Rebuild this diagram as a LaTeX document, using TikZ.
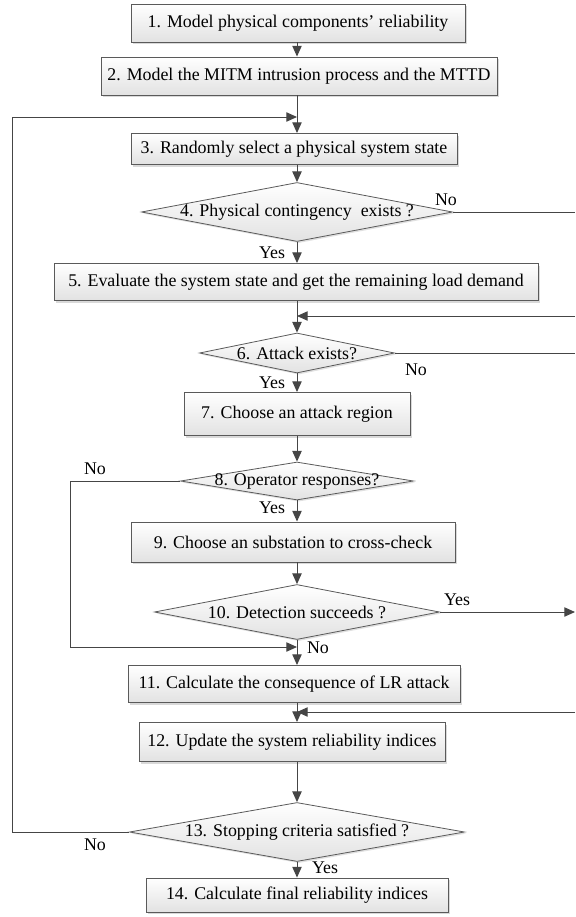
\documentclass[tikz,border=0pt]{standalone}
\usepackage{fontspec}
\setmainfont{Liberation Serif}
\usetikzlibrary{arrows.meta,shapes.geometric,shadows}
\newdimen\upx \upx=0.75pt
\definecolor{edge}{HTML}{5A5A5A}
\definecolor{ink}{HTML}{454545}
\definecolor{shadebot}{HTML}{E2E2E2}
\begin{document}
\begin{tikzpicture}[x=0.75pt,y=-0.75pt,
  font=\fontsize{13.4}{15}\selectfont,
  stepbox/.style={rectangle, draw=edge, line width=0.7pt, top color=white,
    bottom color=shadebot, inner sep=0pt,
    drop shadow={shadow xshift=1.6pt, shadow yshift=-1.6pt, fill=black, opacity=0.15}},
  decision/.style={diamond, draw=edge, line width=0.6pt, top color=white,
    bottom color=shadebot, inner sep=0pt,
    drop shadow={shadow xshift=1.2pt, shadow yshift=-1.2pt, fill=black, opacity=0.12}},
  flow/.style={draw=ink, line width=0.75pt},
  arr/.style={flow, -{Triangle[length=8pt,width=7pt]}},
  lbl/.style={inner sep=0pt}
]
\useasboundingbox (0,0) rectangle (575,917);

% process steps and decisions along the main axis
\node[stepbox, minimum width=334\upx, minimum height=38\upx] (b1) at (298,23) {1. Model physical components’ reliability};
\node[stepbox, minimum width=396\upx, minimum height=38\upx] (b2) at (299,76) {2. Model the MITM intrusion process and the MTTD};
\node[stepbox, minimum width=326\upx, minimum height=31\upx] (b3) at (294,149) {3. Randomly select a physical system state};
\node[decision, minimum width=311\upx, minimum height=59\upx] (d4) at (297,212) {};
\node[lbl] (t4) at (d4.center) {4. Physical contingency~ exists ?};
\node[stepbox, minimum width=484\upx, minimum height=37\upx] (b5) at (296,282) {5. Evaluate the system state and get the remaining load demand};
\node[decision, minimum width=195\upx, minimum height=40\upx] (d6) at (297,353) {};
\node[lbl] (t6) at (d6.center) {6. Attack exists?};
\node[stepbox, minimum width=226\upx, minimum height=43\upx] (b7) at (297,414) {7. Choose an attack region};
\node[decision, minimum width=233\upx, minimum height=38\upx] (d8) at (297,481) {};
\node[lbl] (t8) at (d8.center) {8. Operator responses?};
\node[stepbox, minimum width=324\upx, minimum height=40\upx] (b9) at (293,542) {9. Choose an substation to cross-check};
\node[decision, minimum width=285\upx, minimum height=55\upx] (d10) at (297,612) {};
\node[lbl] (t10) at (d10.center) {10. Detection succeeds ?};
\node[stepbox, minimum width=332\upx, minimum height=37\upx] (b11) at (294,684) {11. Calculate the consequence of LR attack};
\node[stepbox, minimum width=306\upx, minimum height=39\upx] (b12) at (292,742) {12. Update the system reliability indices};
\node[decision, minimum width=335\upx, minimum height=59\upx] (d13) at (297,832) {};
\node[lbl] (t13) at (d13.center) {13. Stopping criteria satisfied ?};
\node[stepbox, minimum width=302\upx, minimum height=34\upx] (b14) at (297,895) {14. Calculate final reliability indices};

% junctions on the main axis and free ends at the right margin
\coordinate (j3) at (297,117);
\coordinate (j6) at (297,316);
\coordinate (j11) at (297,647);
\coordinate (j12) at (297,712);
\coordinate (lc) at (12,832);
\coordinate (lt) at (12,117);
\coordinate (l8a) at (70,481);
\coordinate (l8b) at (70,647);
\coordinate (r4) at (575,212);
\coordinate (r5) at (575,316);
\coordinate (r6) at (575,353);
\coordinate (r10) at (575,612);
\coordinate (r11) at (575,712);

% main flow
\draw[arr] (b1.south -| d4.north) -- (b2.north -| d4.north);
\draw[arr] (b2.south -| d4.north) -- (b3.north -| d4.north);
\draw[arr] (b3.south -| d4.north) -- (d4.north);
\draw[arr] (d4.south) -- (b5.north -| d4.south);
\draw[arr] (b5.south -| d6.north) -- (d6.north);
\draw[arr] (d6.south) -- (b7.north);
\draw[arr] (b7.south) -- (d8.north);
\draw[arr] (d8.south) -- (b9.north -| d8.south);
\draw[arr] (b9.south -| d10.north) -- (d10.north);
\draw[arr] (d10.south) -- (b11.north -| d10.south);
\draw[arr] (b11.south -| d13.north) -- (b12.north -| d13.north);
\draw[arr] (b12.south -| d13.north) -- (d13.north);
\draw[arr] (d13.south) -- (b14.north);

% loops and side branches
\draw[arr] (d13.west) -- (lc) -- (lt) -- (j3);
\draw[arr] (d8.west) -- (l8a) -- (l8b) -- (j11);
\draw[flow] (d4.east) -- (r4);
\draw[arr] (r5) -- (j6);
\draw[flow] (d6.east) -- (r6);
\draw[arr] (d10.east) -- (r10);
\draw[arr] (r11) -- (j12);

% branch labels
\node[lbl] (n4) at (446,200) {No};
\node[lbl] (y4) at (272,253) {Yes};
\node[lbl] (n6) at (416,370) {No};
\node[lbl] (y6) at (272,383) {Yes};
\node[lbl] (n8) at (95,469) {No};
\node[lbl] (y8) at (272,508) {Yes};
\node[lbl] (y10) at (457,600) {Yes};
\node[lbl] (n10) at (318,648) {No};
\node[lbl] (n13) at (95,845) {No};
\node[lbl] (y13) at (325,868) {Yes};
\end{tikzpicture}
\end{document}
